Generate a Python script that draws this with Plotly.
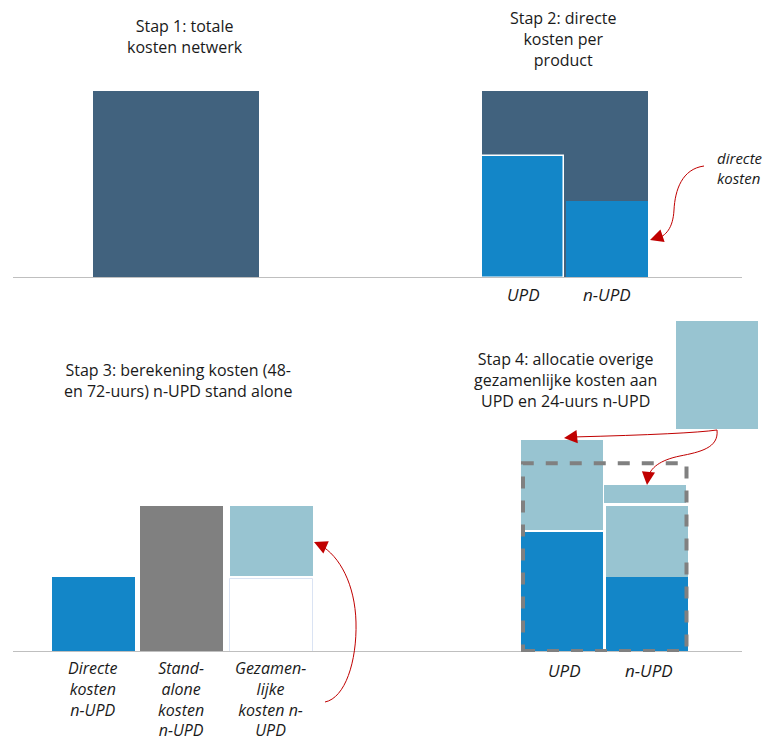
import plotly.graph_objects as go

# ---------------- data (cost units, total network cost = 100) ----------------
stage1_cats = ["Totale kosten netwerk"]
stage1_total = [100]

stage2_cats = ["UPD", "n-UPD"]
stage2_total = [100]
stage2_direct = [65, 41]

stage3_cats = ["Directe kosten n-UPD", "Stand-alone kosten n-UPD", "Gezamenlijke kosten n-UPD"]
stage3_direct = [40]
stage3_standalone = [78]
stage3_joint_base = [40.6]
stage3_joint_top = [78]
stage3_placeholder = [39]

stage4_cats = ["UPD", "n-UPD"]
stage4_direct = [64.2, 40]
stage4_joint_base = [65.2, 40]
stage4_joint_top = [113.4, 78]
stage4_extra_base = [79.7]
stage4_extra_top = [89.3]
stage4_remaining_base = [119.3]
stage4_remaining_top = [177]
stage4_total = [101]

stage_titles = [
    ["Stap 1: totale", "kosten netwerk"],
    ["Stap 2: directe", "kosten per", "product"],
    ["Stap 3: berekening kosten (48-", "en 72-uurs) n-UPD stand alone"],
    ["Stap 4: allocatie overige", "gezamenlijke kosten aan", "UPD en 24-uurs n-UPD"],
]
stage2_ticks = ["UPD", "n-UPD"]
stage3_ticks = [["Directe", "kosten", "n-UPD"],
                ["Stand-", "alone", "kosten", "n-UPD"],
                ["Gezamen-", "lijke", "kosten n-", "UPD"]]
stage4_ticks = ["UPD", "n-UPD"]
note_direct = ["directe", "kosten"]

# ---------------- layout constants ----------------
VW, VH = 771, 740             # browser window
OFF = 8                       # default page margin of the browser
W, H = VW - OFF, VH - OFF     # figure size
S = 1.87                      # pixels per cost unit
TOP_BASE, BOT_BASE, BOT_TOP = 278, 652, 300
DARK, BLUE, LIGHT, GREY, RED = "#41627e", "#1386c8", "#98c4d1", "#808080", "#c00000"
FONT = "Open Sans"
FS = 16

pos = {  # horizontal slot centres / widths (x axis in layout units)
    "s1": (176, 166), "s2": (565, 166), "s2_upd": (523, 82), "s2_nupd": (607, 82),
    "s3_dir": (93.5, 83), "s3_sa": (181.5, 83), "s3_joint": (271.5, 83),
    "s4_upd": (562, 82), "s4_nupd": (647, 82), "s4_extra": (645, 82), "s4_rem": (717, 82),
}


def px(x):
    return (x - OFF) / W


def py(y):
    return 1 - (y - OFF) / H


fig = go.Figure()


def bar(slot, top, base=0, color=BLUE, axis=1, line_color=None, line_width=0, name=""):
    cx, w = pos[slot]
    fig.add_trace(go.Bar(
        x=[cx], y=[top - base], base=[base], width=[w], name=name,
        marker=dict(color=color, line=dict(color=line_color or color, width=line_width)),
        xaxis="x" if axis == 1 else "x2", yaxis="y" if axis == 1 else "y2",
        showlegend=False, hoverinfo="skip"))


# Stap 1
bar("s1", stage1_total[0], color=DARK, name=stage1_cats[0])
# Stap 2
bar("s2", stage2_total[0], color=DARK)
bar("s2_upd", stage2_direct[0], color=BLUE, line_color="white", line_width=1.5, name=stage2_cats[0])
bar("s2_nupd", stage2_direct[1], color=BLUE, name=stage2_cats[1])
# Stap 3
bar("s3_dir", stage3_direct[0], color=BLUE, axis=2, name=stage3_cats[0])
bar("s3_sa", stage3_standalone[0], color=GREY, axis=2, name=stage3_cats[1])
bar("s3_joint", stage3_joint_top[0], base=stage3_joint_base[0], color=LIGHT, axis=2, name=stage3_cats[2])
bar("s3_joint", stage3_placeholder[0], color="white", axis=2, line_color="#dae3f3", line_width=1)
# Stap 4
bar("s4_upd", stage4_direct[0], color=BLUE, axis=2, name=stage4_cats[0])
bar("s4_upd", stage4_joint_top[0], base=stage4_joint_base[0], color=LIGHT, axis=2)
bar("s4_nupd", stage4_direct[1], color=BLUE, axis=2, name=stage4_cats[1])
bar("s4_nupd", stage4_joint_top[1], base=stage4_joint_base[1], color=LIGHT, axis=2)
bar("s4_extra", stage4_extra_top[0], base=stage4_extra_base[0], color=LIGHT, axis=2)
bar("s4_rem", stage4_remaining_top[0], base=stage4_remaining_base[0], color=LIGHT, axis=2)

shapes = []
# baselines
for xa, ya in (("x", "y"), ("x2", "y2")):
    shapes.append(dict(type="line", xref=xa, yref=ya, x0=13, x1=742, y0=0, y1=0,
                       line=dict(color="#bfbfbf", width=2), layer="above"))
# dashed total-cost outline in Stap 4
ux, uw = pos["s4_upd"]
nx, nw = pos["s4_nupd"]
shapes.append(dict(type="rect", xref="x2", yref="y2", x0=ux - uw / 2 + 2, x1=nx + nw / 2 - 1.5,
                   y0=0.6, y1=stage4_total[0], line=dict(color=GREY, width=4, dash="dash"),
                   fillcolor="rgba(0,0,0,0)", layer="above"))


def path(cmds):
    out = []
    for c in cmds:
        op, pts = c[0], c[1:]
        out.append(op + " " + " ".join(f"{px(x):.5f},{py(y):.5f}" for x, y in pts))
    return " ".join(out)


curves = [
    [("M", (704, 166)), ("C", (682, 169), (675, 190), (674, 210)), ("C", (673, 228), (666, 236), (656, 239))],
    [("M", (325, 702)), ("C", (345, 698), (357, 662), (356, 622)), ("C", (355, 585), (340, 556), (320, 545))],
    [("M", (717, 430)), ("Q", (690, 434), (572, 437))],
    [("M", (717, 430)), ("C", (719, 448), (700, 452), (680, 456)), ("C", (660, 460), (650, 468), (648, 478))],
]
for c in curves:
    shapes.append(dict(type="path", xref="paper", yref="paper", path=path(c),
                       line=dict(color=RED, width=1), layer="above"))

annotations = []
heads = [((650, 240), (9, -3)), ((314, 542), (9, 4)), ((564, 438), (10, -1)), ((647, 485), (1, -9))]
for (tx, ty), (ax, ay) in heads:
    annotations.append(dict(x=px(tx), y=py(ty), xref="paper", yref="paper", text="",
                            showarrow=True, arrowhead=2, arrowsize=2.2, arrowwidth=1.2,
                            arrowcolor=RED, ax=ax, ay=ay, standoff=0))


def text_block(lines, y, x, xref="paper", italic=False, xanchor="center", yanchor="middle",
               align="center", size=FS):
    body = "<br>".join(f"<i>{t}</i>" if italic else t for t in lines)
    annotations.append(dict(
        x=x, y=py(y), xref=xref, yref="paper", text=body, showarrow=False,
        xanchor=xanchor, yanchor=yanchor, align=align, borderpad=0,
        font=dict(family=FONT, size=size, color="#1a1a1a")))


text_block(stage_titles[0], 37, px(185))
text_block(stage_titles[1], 39, px(563))
text_block(stage_titles[2], 380, px(178))
text_block(stage_titles[3], 379.5, px(565))
text_block(note_direct, 167.5, px(716), italic=True, xanchor="left", align="left", size=15)

# category labels (placed on the x scales)
for lbl, slot in zip(stage2_ticks, ["s2_upd", "s2_nupd"]):
    text_block([lbl], 295, pos[slot][0], xref="x", italic=True, size=17)
for lines, slot in zip(stage3_ticks, ["s3_dir", "s3_sa", "s3_joint"]):
    text_block(lines, 656, pos[slot][0] - 1, xref="x2", italic=True, yanchor="top")
for lbl, slot in zip(stage4_ticks, ["s4_upd", "s4_nupd"]):
    text_block([lbl], 670, pos[slot][0] + 2, xref="x2", italic=True, size=17)

fig.update_layout(
    width=W, height=H, margin=dict(l=0, r=0, t=0, b=0),
    paper_bgcolor="white", plot_bgcolor="white", barmode="overlay", bargap=0,
    xaxis=dict(domain=[0, 1], range=[OFF, VW], visible=False, anchor="y"),
    yaxis=dict(domain=[py(TOP_BASE), 1], range=[0, (TOP_BASE - OFF) / S], visible=False, anchor="x"),
    xaxis2=dict(domain=[0, 1], range=[OFF, VW], visible=False, anchor="y2"),
    yaxis2=dict(domain=[py(BOT_BASE), py(BOT_TOP)], range=[0, (BOT_BASE - BOT_TOP) / S],
                visible=False, anchor="x2"),
    shapes=shapes, annotations=annotations, showlegend=False,
)

fig.write_html("out.html")
